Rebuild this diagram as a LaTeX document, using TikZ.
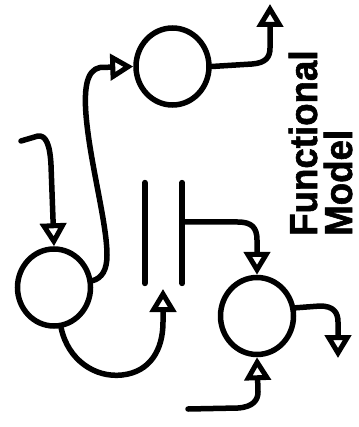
\documentclass[tikz,border=0pt]{standalone}
\usepackage{fontspec}
\newfontfamily\tfont[FakeStretch=0.94,FakeBold=1.5]{Liberation Sans}
\usetikzlibrary{arrows.meta,shapes.geometric,calc}
\tikzset{
  proc/.style={ellipse, draw, line width=5.5pt, minimum width=73pt, minimum height=77pt, inner sep=0pt},
  flow/.style={line width=5.5pt, line cap=round, line join=round,
    -{Triangle[open, length=23pt, width=26pt, line width=5pt]}},
  storeline/.style={line width=6pt, line cap=round},
  lbl/.style={rotate=90, anchor=base west, inner sep=0pt,
    font=\tfont\bfseries\fontsize{39}{36}\selectfont}
}
\begin{document}
\begin{tikzpicture}[x=1pt,y=-1pt]
\useasboundingbox (0,0) rectangle (358,427);
% processes
\node[proc] (P1) at (54,287.5) {};
\node[proc] (P2) at (172.5,66.5) {};
\node[proc] (P3) at (257,316) {};
% data store
\node[minimum width=37pt, minimum height=100pt, inner sep=0pt] (store) at (163.5,233) {};
\draw[storeline] (store.north west) -- (store.south west);
\draw[storeline] (store.north east) -- (store.south east);
\coordinate (sB) at ($(store.north east)!0.39!(store.south east)$);
% free ends
\coordinate (in1) at (21,141);
\coordinate (a3) at (163,289);
\coordinate (o3) at (338,358);
\coordinate (i3) at (188,409);
\coordinate (o2) at (270,4);
% flows
\draw[flow] (in1) -- (38,136) .. controls (46,135) and (50,145) .. (51,165) -- (P1.north);
\draw[flow] (P1.10) .. controls (102,278) and (107,270) .. (107,255) .. controls (107,225) and (92,170) .. (87,125) .. controls (83,90) and (86,70) .. (100,67.5) -- (P2.west);
\draw[flow] (P1.-80) .. controls (68,360) and (95,378) .. (122,375) .. controls (150,372) and (163,350) .. (163,322) -- (a3);
\draw[flow] (sB) -- (238,222) .. controls (252,222) and (257,228) .. (257,240) -- (P3.north);
\draw[flow] (P3.12) -- (320,306) .. controls (333,306) and (338,312) .. (338,322) -- (o3);
\draw[flow] (i3) -- (238,408) .. controls (253,407) and (258,400) .. (258,392) -- (P3.south);
\draw[flow] (P2.east) -- (252,64) .. controls (266,63) and (270,57) .. (270,48) -- (o2);
% label
\node[lbl] (title1) at (317,236) {Functional};
\node[lbl] (title2) at (352,236) {Model};
\end{tikzpicture}
\end{document}
